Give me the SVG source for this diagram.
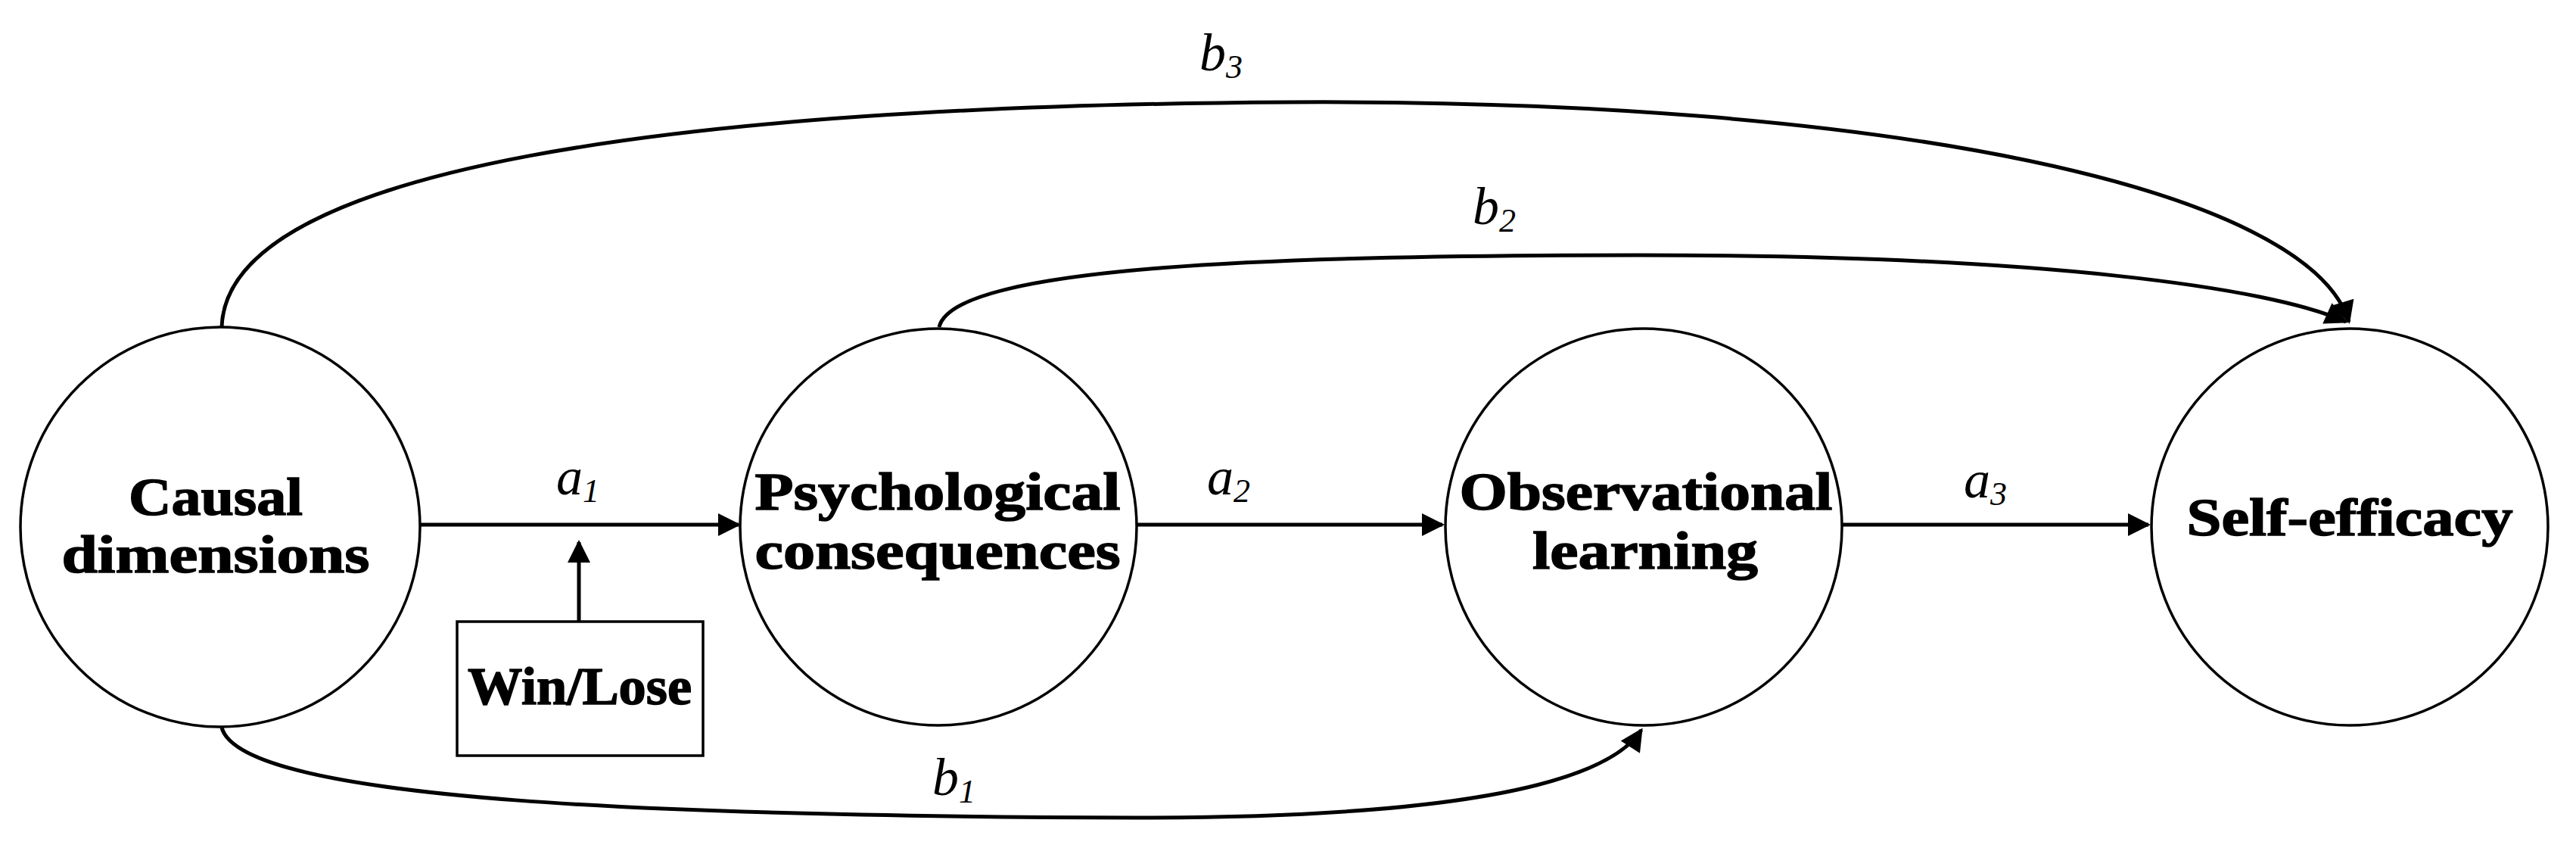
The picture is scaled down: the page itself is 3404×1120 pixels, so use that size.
<svg xmlns="http://www.w3.org/2000/svg" width="3404" height="1120" viewBox="0 0 3404 1120">
<style>
.n{fill:#fff;stroke:#000;stroke-width:3.5}
.t{font-family:"Liberation Serif",serif;font-weight:900;font-size:70px;text-anchor:middle;stroke:#000;stroke-width:1.5}
.l{font-family:"Liberation Serif",serif;font-style:italic;font-size:70px}
.s{font-size:44px}
.c{fill:none;stroke:#000;stroke-width:5}
</style>
<defs>
<marker id="a" viewBox="0 0 10 10" refX="9" refY="5" markerWidth="7" markerHeight="6" orient="auto"><path d="M0,0 L10,5 L0,10 z"/></marker></defs>
<g id="connectors">
<path class="c" d="M555,693 H976" marker-end="url(#a)"/>
<path class="c" d="M1502,693 H1906" marker-end="url(#a)"/>
<path class="c" d="M2434,693 H2839" marker-end="url(#a)"/>
<path class="c" d="M765,821 V716" marker-end="url(#a)"/>
<path class="c" d="M293,432 C300,220 900,140 1700,135 C2500,130 3050,250 3104,425" marker-end="url(#a)"/>
<path class="c" d="M1241,432 C1260,350 1700,337 2166,337 C2700,337 3000,380 3100,425" marker-end="url(#a)"/>
<path class="c" d="M293,961 C320,1060 900,1078 1500,1080 C1900,1080 2120,1040 2169,964" marker-end="url(#a)"/>
<text class="l" x="735" y="653">a<tspan class="s" dy="10">1</tspan></text>
<text class="l" x="1595" y="653">a<tspan class="s" dy="10">2</tspan></text>
<text class="l" x="2595" y="657">a<tspan class="s" dy="10">3</tspan></text>
<text class="l" x="1585" y="93">b<tspan class="s" dy="10">3</tspan></text>
<text class="l" x="1946" y="296">b<tspan class="s" dy="10">2</tspan></text>
<text class="l" x="1232" y="1050">b<tspan class="s" dy="10">1</tspan></text>
</g>
<g id="causal"><circle class="n" cx="291" cy="696" r="264"/>
<text class="t" x="285" y="680" textLength="230" lengthAdjust="spacingAndGlyphs">Causal</text>
<text class="t" x="285" y="756" textLength="407" lengthAdjust="spacingAndGlyphs">dimensions</text></g>
<g id="psych"><circle class="n" cx="1240" cy="696" r="262"/>
<text class="t" x="1239" y="673" textLength="483" lengthAdjust="spacingAndGlyphs">Psychological</text>
<text class="t" x="1239" y="751" textLength="483" lengthAdjust="spacingAndGlyphs">consequences</text></g>
<g id="obs"><circle class="n" cx="2172" cy="696" r="262"/>
<text class="t" x="2175" y="673" textLength="493" lengthAdjust="spacingAndGlyphs">Observational</text>
<text class="t" x="2174" y="751" textLength="298" lengthAdjust="spacingAndGlyphs">learning</text></g>
<g id="self"><circle class="n" cx="3105" cy="696" r="262"/>
<text class="t" x="3105" y="707" textLength="431" lengthAdjust="spacingAndGlyphs">Self-efficacy</text></g>
<g id="winlose"><rect class="n" x="604" y="821" width="325" height="177"/>
<text class="t" x="766" y="930" textLength="296" lengthAdjust="spacingAndGlyphs">Win/Lose</text></g>
</svg>
